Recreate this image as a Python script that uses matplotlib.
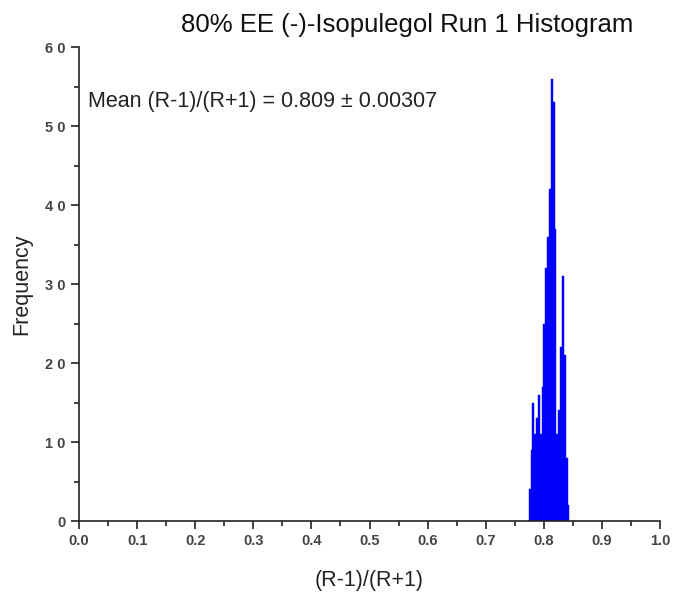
import numpy as np
import matplotlib.pyplot as plt
from matplotlib.ticker import MultipleLocator

plt.rcParams['font.family'] = ['Liberation Sans', 'DejaVu Sans']

# histogram bins
bin_start = 0.774
bin_width = 0.00318
counts = [4, 9, 15, 11, 13, 16, 11, 17, 25, 32, 36, 42, 56, 53, 37,
          11, 14, 22, 31, 21, 8, 2]
edges = bin_start + bin_width * np.arange(len(counts))

x_ticks = np.round(np.arange(0, 1.01, 0.1), 1)
y_ticks = [0, 10, 20, 30, 40, 50, 60]

fig = plt.figure(figsize=(6.78, 5.93), dpi=100)
ax = fig.add_axes([0.1165, 0.1214, 0.857, 0.7993])

ax.bar(edges, counts, width=bin_width, align='edge', color='#0000ff',
       edgecolor='#0000ff', linewidth=0.3)

ax.set_xlim(0, 1.0)
ax.set_ylim(0, 60)
ax.set_xticks(x_ticks)
ax.set_xticklabels([f"{v:.1f}" for v in x_ticks])
ax.set_yticks(y_ticks)
ax.set_yticklabels([" ".join(str(v)) for v in y_ticks])
ax.xaxis.set_minor_locator(MultipleLocator(0.05))
ax.yaxis.set_minor_locator(MultipleLocator(5))

for s in ['top', 'right']:
    ax.spines[s].set_visible(False)
for s in ['left', 'bottom']:
    ax.spines[s].set_linewidth(1.2)
    ax.spines[s].set_color('#222222')

ax.tick_params(which='major', direction='out', length=6, width=1.2,
               color='#222222', labelsize=10.5, labelcolor='#444444')
ax.tick_params(which='minor', direction='out', length=3.5, width=1.2,
               color='#222222')
for lab in ax.get_xticklabels() + ax.get_yticklabels():
    lab.set_fontweight('bold')

ax.set_xlabel("(R-1)/(R+1)", fontsize=15.5, color='#222222', labelpad=16)
ax.set_ylabel("Frequency", fontsize=15.5, color='#222222', labelpad=9)

fig.text(407 / 678, 1 - 25 / 593, "80% EE (-)-Isopulegol Run 1 Histogram",
         ha='center', va='center', fontsize=18.5, color='#111111')
ax.text(0.015, 0.885, "Mean (R-1)/(R+1) = 0.809 \u00b1 0.00307",
        transform=ax.transAxes, ha='left', va='center', fontsize=15.5,
        color='#222222')

fig.savefig("out.png", dpi=100)
